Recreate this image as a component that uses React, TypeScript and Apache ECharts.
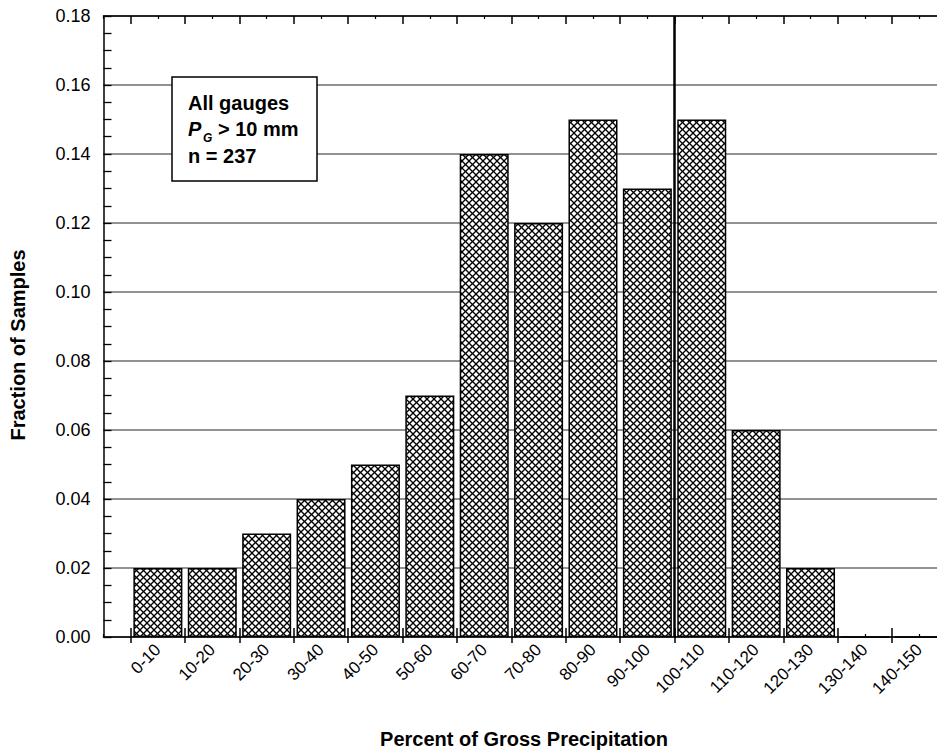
import React, { useEffect, useRef } from 'react';
import * as echarts from 'echarts';

// ---- data ----
const categories = [
  '0-10', '10-20', '20-30', '30-40', '40-50', '50-60', '60-70', '70-80',
  '80-90', '90-100', '100-110', '110-120', '120-130', '130-140', '140-150',
];
const fractions = [
  0.02, 0.02, 0.03, 0.04, 0.05, 0.07, 0.14, 0.12, 0.15, 0.13, 0.15, 0.06, 0.02, 0, 0,
];
const referencePercent = 100;
const yMin = 0;
const yMax = 0.18;
const yStep = 0.02;
const boxTitle = 'All gauges';
const boxSymbol = 'P';
const boxSub = 'G';
const boxCondition = '> 10 mm';
const boxCount = 'n = 237';
const xTitle = 'Percent of Gross Precipitation';
const yTitle = 'Fraction of Samples';

const FONT = '"Liberation Sans", Arial, Helvetica, sans-serif';
const CHART_W = 980;

function binMid(label: string): number {
  const [a, b] = label.split('-').map(Number);
  return (a + b) / 2;
}

function makeHatch(): string {
  const s = 7;
  const c = document.createElement('canvas');
  c.width = s;
  c.height = s;
  const ctx = c.getContext('2d')!;
  ctx.fillStyle = '#ffffff';
  ctx.fillRect(0, 0, s, s);
  ctx.strokeStyle = '#000000';
  ctx.lineWidth = 1.3;
  for (const o of [-s, 0, s]) {
    ctx.beginPath();
    ctx.moveTo(o, 0);
    ctx.lineTo(o + s, s);
    ctx.stroke();
    ctx.beginPath();
    ctx.moveTo(o + s, 0);
    ctx.lineTo(o, s);
    ctx.stroke();
  }
  return c.toDataURL();
}

export default function App() {
  const ref = useRef<HTMLDivElement>(null);

  useEffect(() => {
    if (!ref.current) return;
    const chart = echarts.init(ref.current, undefined, { renderer: 'svg' });
    const hatch = makeHatch();

    const labelScale = {
      type: 'value' as const,
      min: -10,
      max: 145,
      interval: 10,
      gridIndex: 0,
      splitLine: { show: false },
    };

    const option: any = {
      animation: false,
      backgroundColor: '#ffffff',
      grid: {
        left: 103.5,
        top: 16,
        width: 843,
        height: 621,
        containLabel: false,
        outerBoundsMode: 'none',
      },
      xAxis: [
        {
          type: 'value',
          min: -5,
          max: 150,
          show: false,
          position: 'bottom',
          splitLine: { show: false },
        },
        {
          ...labelScale,
          position: 'bottom',
          axisLine: { show: true, onZero: false, lineStyle: { color: '#000', width: 1.5 } },
          axisTick: { show: true, inside: true, length: 3, lineStyle: { color: '#000', width: 1.2 } },
          minorTick: { show: true, splitNumber: 2, length: 9, lineStyle: { color: '#000', width: 1.5 } },
          axisLabel: { show: false },
        },
        {
          ...labelScale,
          position: 'bottom',
          axisLine: { show: false, onZero: false },
          axisTick: { show: false },
          minorTick: { show: true, splitNumber: 2, length: 6, lineStyle: { color: '#000', width: 1.5 } },
          axisLabel: {
            show: true,
            rotate: 45,
            margin: 10,
            color: '#000',
            fontFamily: FONT,
            fontSize: 17,
            formatter: (v: number) => {
              const i = v / 10;
              return Number.isInteger(i) && i >= 0 && i < categories.length ? categories[i] : '';
            },
          },
        },
        {
          ...labelScale,
          position: 'top',
          axisLine: { show: true, onZero: false, lineStyle: { color: '#000', width: 1.5 } },
          axisTick: { show: true, inside: true, length: 3, lineStyle: { color: '#000', width: 1.2 } },
          minorTick: { show: true, splitNumber: 2, length: 8, lineStyle: { color: '#000', width: 1.5 } },
          axisLabel: { show: false },
        },
      ],
      yAxis: [
        {
          type: 'value',
          min: yMin,
          max: yMax,
          interval: yStep,
          position: 'left',
          axisLine: { show: true, onZero: false, lineStyle: { color: '#000', width: 1.5 } },
          axisTick: { show: true, inside: true, length: 8, lineStyle: { color: '#000', width: 1.3 } },
          minorTick: { show: true, splitNumber: 4, length: 8, lineStyle: { color: '#000', width: 1.3 } },
          splitLine: { show: true, lineStyle: { color: '#6e6e6e', width: 1.5 } },
          axisLabel: {
            color: '#000',
            fontFamily: FONT,
            fontSize: 18,
            margin: 13,
            formatter: (v: number) => v.toFixed(2),
          },
        },
      ],
      series: [
        {
          type: 'bar',
          xAxisIndex: 0,
          yAxisIndex: 0,
          barWidth: 49,
          data: categories.map((c, i) => [binMid(c), fractions[i]]),
          itemStyle: {
            color: { image: hatch, repeat: 'repeat', imageWidth: 7, imageHeight: 7 },
            borderColor: '#000',
            borderWidth: 1.5,
          },
          silent: true,
          markLine: {
            silent: true,
            symbol: ['none', 'none'],
            label: { show: false },
            lineStyle: { color: '#000', width: 2.5, type: 'solid' },
            data: [{ xAxis: referencePercent }],
            z: 10,
          },
        },
      ],
      graphic: [
        {
          type: 'rect',
          z: 100,
          shape: { x: 172, y: 77, width: 145, height: 104 },
          style: { fill: '#fff', stroke: '#000', lineWidth: 1.5 },
        },
        {
          type: 'text',
          z: 101,
          x: 188,
          y: 103,
          style: { text: boxTitle, font: `bold 20px ${FONT}`, fill: '#000', verticalAlign: 'middle' },
        },
        {
          type: 'text',
          z: 101,
          x: 188,
          y: 129,
          style: { text: boxSymbol, font: `italic bold 20px ${FONT}`, fill: '#000', verticalAlign: 'middle' },
        },
        {
          type: 'text',
          z: 101,
          x: 203,
          y: 138,
          style: { text: boxSub, font: `italic bold 12px ${FONT}`, fill: '#000', verticalAlign: 'middle' },
        },
        {
          type: 'text',
          z: 101,
          x: 218,
          y: 129,
          style: { text: boxCondition, font: `bold 20px ${FONT}`, fill: '#000', verticalAlign: 'middle' },
        },
        {
          type: 'text',
          z: 101,
          x: 188,
          y: 156,
          style: { text: boxCount, font: `bold 20px ${FONT}`, fill: '#000', verticalAlign: 'middle' },
        },
        {
          type: 'text',
          z: 101,
          x: 524,
          y: 739,
          style: { text: xTitle, font: `bold 20px ${FONT}`, fill: '#000', align: 'center', verticalAlign: 'middle' },
        },
        {
          type: 'text',
          z: 101,
          x: 18,
          y: 345,
          rotation: Math.PI / 2,
          style: { text: yTitle, font: `bold 20px ${FONT}`, fill: '#000', align: 'center', verticalAlign: 'middle' },
        },
      ],
    };

    chart.setOption(option);
    return () => chart.dispose();
  }, []);

  return (
    <div
      style={{
        position: 'fixed',
        left: 0,
        top: 0,
        width: 937,
        height: 751,
        overflow: 'hidden',
        background: '#fff',
      }}
    >
      <div ref={ref} style={{ width: CHART_W, height: 751 }} />
    </div>
  );
}
